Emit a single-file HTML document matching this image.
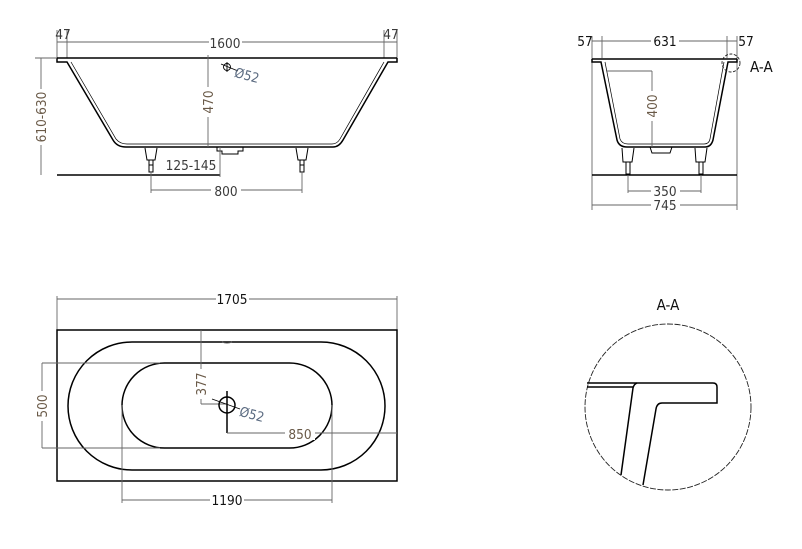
<!DOCTYPE html>
<html><head><meta charset="utf-8"><style>
html,body{margin:0;padding:0;background:#fff;}
svg{display:block;font-family:"DejaVu Sans Condensed","Liberation Sans Narrow","Liberation Sans",sans-serif;}
.o{fill:none;stroke:#000;stroke-width:1.5}
.d{fill:none;stroke:#666;stroke-width:0.9}
.t{font-size:13.5px;fill:#3a3a3a;text-anchor:middle}
.tb{font-size:13.5px;fill:#6a5a48;text-anchor:middle}
.bg{fill:#fff}
</style></head><body>
<svg width="802" height="549" viewBox="0 0 802 549" xmlns="http://www.w3.org/2000/svg">
<!-- TOP LEFT VIEW -->
<g>
<line class="d" x1="57" y1="30" x2="57" y2="58"/><line class="d" x1="67" y1="30" x2="67" y2="58"/>
<line class="d" x1="384" y1="30" x2="384" y2="58"/><line class="d" x1="397" y1="30" x2="397" y2="58"/>
<line class="d" x1="57" y1="42" x2="397" y2="42"/>
<rect class="bg" x="209" y="35" width="33" height="14"/>
<text class="t" x="225" y="48">1600</text>
<text class="t" x="63" y="39">47</text><text class="t" x="391" y="39">47</text>
<line class="o" x1="57" y1="58" x2="397" y2="58"/>
<path class="o" d="M57 58 L57 62 L67 62 L113 140 Q117 147 126 147 L333 147 Q339 147 343 140 L388 62 L397 62 L397 58"/>
<path class="o" d="M71 62 L116 139 Q120 144 127 144 L332 144 Q337 144 340 139 L384 62" style="stroke-width:0.7"/>
<path class="o" d="M217 147 L217 151 L222 151 L222 154 L238 154 L238 151 L243 151 L243 147" style="stroke-width:1"/>
<path class="o" d="M145 148 L147 160 L155 160 L157 148 M149 160 L149 172 L153 172 L153 160 M149 165 L153 165" style="stroke-width:1"/>
<path class="o" d="M296 148 L298 160 L306 160 L308 148 M300 160 L300 172 L304 172 L304 160 M300 165 L304 165" style="stroke-width:1"/>
<line class="o" x1="57" y1="175" x2="220" y2="175"/>
<line class="d" x1="41" y1="58" x2="41" y2="175"/>
<line class="d" x1="35" y1="58" x2="57" y2="58"/>
<rect class="bg" x="34" y="89" width="15" height="56"/>
<text class="tb" transform="translate(46,117) rotate(-90)">610-630</text>
<line class="d" x1="208" y1="55" x2="208" y2="147"/>
<rect class="bg" x="202" y="87" width="14" height="30"/>
<text class="tb" transform="translate(213,102) rotate(-90)">470</text>
<line class="d" x1="220" y1="147" x2="220" y2="177"/>
<text class="t" x="191" y="170">125-145</text>
<line class="d" x1="151" y1="172" x2="151" y2="193"/><line class="d" x1="302" y1="172" x2="302" y2="193"/>
<line class="d" x1="151" y1="190" x2="302" y2="190"/>
<rect class="bg" x="211" y="183" width="30" height="14"/>
<text class="t" x="226" y="196">800</text>
<circle cx="227" cy="67" r="3.5" class="o" style="stroke-width:0.9"/>
<line class="o" x1="221" y1="64" x2="238" y2="71" style="stroke-width:0.9"/>
<line class="o" x1="227" y1="62" x2="227" y2="72" style="stroke-width:0.9"/>
<text class="t" x="247" y="80" transform="rotate(15 247 75)" style="fill:#5a6a80">Ø52</text>
</g>
<!-- TOP RIGHT VIEW -->
<g>
<line class="d" x1="592" y1="36" x2="592" y2="210"/><line class="d" x1="737" y1="36" x2="737" y2="210"/>
<line class="d" x1="602" y1="36" x2="602" y2="58"/><line class="d" x1="727" y1="36" x2="727" y2="58"/>
<line class="d" x1="592" y1="41" x2="737" y2="41"/>
<rect class="bg" x="651" y="34" width="28" height="14"/>
<text class="t" x="665" y="46" style="fill:#111">631</text>
<text class="t" x="585" y="46" style="fill:#111">57</text><text class="t" x="746" y="46" style="fill:#111">57</text>
<line class="o" x1="592" y1="59" x2="737" y2="59"/>
<path class="o" d="M592 59 L592 62 L601 62 L617 140 Q619 147 627 147 L705 147 Q711 147 713 140 L728 62 L737 62 L737 59"/>
<path class="o" d="M605 62 L620 139 Q622 144 628 144 L704 144 Q709 144 710 139 L724 62" style="stroke-width:0.7"/>
<path class="o" d="M650 147 L652 153 L670 153 L672 147" style="stroke-width:1"/>
<path class="o" d="M622 148 L623 162 L632 162 L634 148 M626 162 L626 174 L630 174 L630 162" style="stroke-width:1"/>
<path class="o" d="M695 148 L696 162 L705 162 L707 148 M699 162 L699 174 L703 174 L703 162" style="stroke-width:1"/>
<line class="o" x1="592" y1="175" x2="737" y2="175"/>
<line class="d" x1="607" y1="71" x2="652" y2="71"/><line class="d" x1="652" y1="71" x2="652" y2="147"/>
<rect class="bg" x="646" y="91" width="14" height="30"/>
<text class="tb" transform="translate(657,106) rotate(-90)">400</text>
<line class="d" x1="628" y1="175" x2="628" y2="193"/><line class="d" x1="701" y1="175" x2="701" y2="193"/>
<line class="d" x1="628" y1="191" x2="701" y2="191"/>
<rect class="bg" x="651" y="184" width="29" height="14"/>
<text class="t" x="665" y="196">350</text>
<line class="d" x1="592" y1="205" x2="737" y2="205"/>
<rect class="bg" x="651" y="198" width="29" height="14"/>
<text class="t" x="665" y="210">745</text>
<circle cx="731" cy="63" r="9" fill="none" stroke="#222" stroke-width="0.9" stroke-dasharray="3,1.5"/>
<text x="750" y="72" style="font-size:15px;fill:#111">A-A</text>
</g>
<!-- BOTTOM LEFT VIEW -->
<g>
<line class="d" x1="57" y1="296" x2="57" y2="330"/><line class="d" x1="397" y1="296" x2="397" y2="330"/>
<line class="d" x1="57" y1="299" x2="397" y2="299"/>
<rect class="bg" x="216" y="292" width="33" height="14"/>
<text class="t" x="232" y="304" style="fill:#111">1705</text>
<rect class="o" x="57" y="330" width="340" height="151"/>
<rect class="o" x="68" y="342" width="317" height="128" rx="64" ry="64"/>
<rect class="o" x="122" y="363" width="210" height="85" rx="42.5" ry="42.5"/>
<path d="M222 342 Q227 344 232 342" stroke="#555" fill="none"/>
<line class="d" x1="42" y1="363" x2="160" y2="363"/><line class="d" x1="42" y1="448" x2="160" y2="448"/>
<line class="d" x1="42" y1="363" x2="42" y2="448"/>
<rect class="bg" x="35" y="391" width="14" height="30"/>
<text class="tb" transform="translate(47,406) rotate(-90)">500</text>
<line class="d" x1="201" y1="330" x2="201" y2="404"/><line class="d" x1="201" y1="404" x2="227" y2="404"/>
<rect class="bg" x="194" y="369" width="14" height="30"/>
<text class="tb" transform="translate(206,384) rotate(-90)">377</text>
<circle cx="227" cy="405" r="8" class="o"/>
<line class="o" x1="227" y1="391" x2="227" y2="433"/>
<line class="o" x1="212" y1="399" x2="240" y2="409" style="stroke-width:0.9"/>
<text class="t" x="252" y="419" transform="rotate(15 252 414)" style="fill:#5a6a80">Ø52</text>
<line class="d" x1="227" y1="433" x2="397" y2="433"/>
<rect class="bg" x="285" y="426" width="30" height="14"/>
<text class="tb" x="300" y="439">850</text>
<line class="d" x1="122" y1="405" x2="122" y2="503"/><line class="d" x1="332" y1="405" x2="332" y2="503"/>
<line class="d" x1="122" y1="500" x2="332" y2="500"/>
<rect class="bg" x="210" y="493" width="34" height="14"/>
<text class="t" x="227" y="505" style="fill:#111">1190</text>
</g>
<!-- DETAIL A-A -->
<g>
<text x="668" y="310" style="font-size:15px;fill:#111;text-anchor:middle">A-A</text>
<circle cx="668" cy="407" r="83" fill="none" stroke="#222" stroke-width="0.9" stroke-dasharray="6,1.5"/>
<path class="o" d="M587 383 L713 383 Q717 383 717 387 L717 403 L662 403 Q657 403 656 409 L643 485"/>
<path class="o" d="M587 387 L633 387"/>
<path class="o" d="M637 383 Q634 384 633 388 L621 475"/>
</g>
</svg>
</body></html>
